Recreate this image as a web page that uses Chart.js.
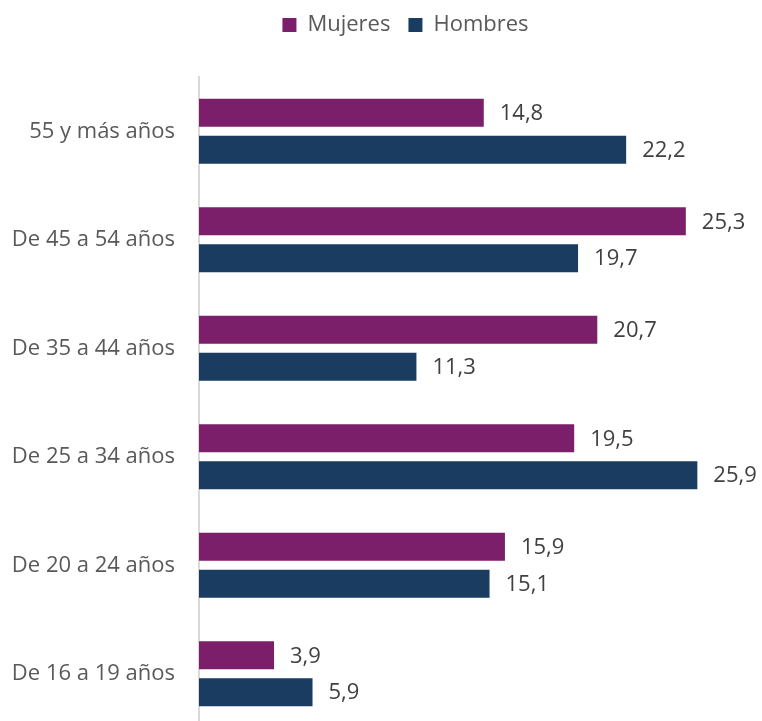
<!DOCTYPE html>
<html>
<head>
<meta charset="utf-8">
<script src="https://cdn.jsdelivr.net/npm/chart.js@4"></script>
<style>
  body { margin: 0; background: #fff; overflow: hidden; }
  #wrap { width: 762px; height: 728px; }
</style>
</head>
<body>
<div id="wrap"><canvas id="edad"></canvas></div>
<script>
const categorias = ['55 y más años', 'De 45 a 54 años', 'De 35 a 44 años', 'De 25 a 34 años', 'De 20 a 24 años', 'De 16 a 19 años'];
const mujeres = [14.8, 25.3, 20.7, 19.5, 15.9, 3.9];
const hombres = [22.2, 19.7, 11.3, 25.9, 15.1, 5.9];

const fuente = "'Open Sans', 'Noto Sans', sans-serif";

// etiquetas de valor a la derecha de cada barra
const etiquetas = {
    id: 'etiquetas',
    afterDatasetsDraw(chart) {
        const c = chart.ctx;
        c.save();
        c.font = '22px ' + fuente;
        c.fillStyle = '#404040';
        c.textBaseline = 'middle';
        c.textAlign = 'left';
        chart.data.datasets.forEach((ds, i) => {
            chart.getDatasetMeta(i).data.forEach((bar, j) => {
                c.fillText(ds.data[j].toFixed(1).replace('.', ','), bar.x + 16, bar.y + 1);
            });
        });
        c.restore();
    },
};

// leyenda desplazada y con espacio debajo
const ajusteLeyenda = {
    id: 'ajusteLeyenda',
    beforeInit(chart) {
        const leg = chart.legend;
        const fit = leg.fit;
        leg.fit = function () {
            fit.call(this);
            this.height += 25;
        };
        const draw = leg.draw;
        leg.draw = function () {
            chart.ctx.save();
            chart.ctx.translate(21, -6);
            draw.call(this);
            chart.ctx.restore();
        };
    },
};

const ctx = document.getElementById('edad').getContext('2d');
const edadChart = new Chart(ctx, {
    type: 'bar',
    data: {
        labels: categorias,
        datasets: [
            {
                label: 'Mujeres',
                data: mujeres,
                backgroundColor: '#7b1f6b',
                barPercentage: 0.757,
                categoryPercentage: 0.681,
            },
            {
                label: 'Hombres',
                data: hombres,
                backgroundColor: '#193c60',
                barPercentage: 0.757,
                categoryPercentage: 0.681,
            },
        ],
    },
    options: {
        indexAxis: 'y',
        responsive: true,
        maintainAspectRatio: false,
        animation: false,
        layout: {
            padding: { left: 12, right: 5, top: 2, bottom: 0 },
        },
        plugins: {
            legend: {
                position: 'top',
                labels: {
                    boxWidth: 14,
                    boxHeight: 14,
                    padding: 18,
                    color: '#595959',
                    font: { size: 22, family: fuente },
                },
            },
            tooltip: { enabled: false },
        },
        scales: {
            x: {
                min: 0,
                max: 29,
                display: false,
            },
            y: {
                grid: { display: false, drawTicks: false },
                border: { display: true, color: '#d9d9d9', width: 2 },
                ticks: {
                    color: '#595959',
                    padding: 24,
                    font: { size: 22, family: fuente },
                },
                afterFit(scale) {
                    scale.width = 187;
                    scale.paddingTop = 0;
                    scale.paddingBottom = 0;
                },
            },
        },
    },
    plugins: [etiquetas, ajusteLeyenda],
});
</script>
</body>
</html>
